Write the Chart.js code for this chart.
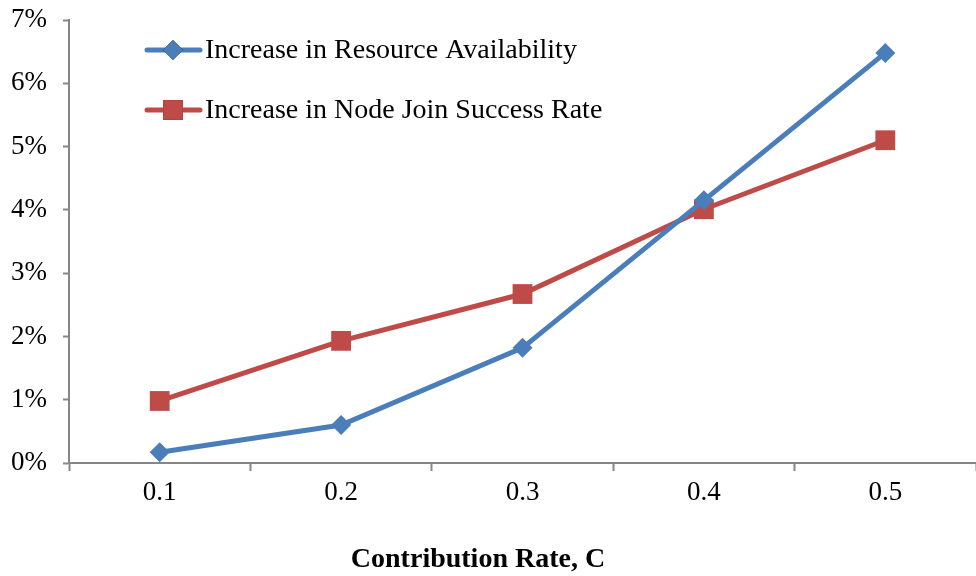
<!DOCTYPE html>
<html>
<head>
<meta charset="utf-8">
<script src="https://cdn.jsdelivr.net/npm/chart.js@4.4.1/dist/chart.umd.min.js"></script>
<style>
  html, body { margin: 0; padding: 0; background: #ffffff; overflow: hidden; }
  #wrap { width: 976px; height: 576px; }
  canvas { display: block; }
</style>
</head>
<body>
<div id="wrap"><canvas id="chart" width="976" height="576"></canvas></div>
<script>
const categories = ["0.1", "0.2", "0.3", "0.4", "0.5"];
const resourceAvailability = [0.17, 0.6, 1.82, 4.15, 6.48];
const nodeJoinSuccess = [0.98, 1.93, 2.67, 4.01, 5.1];
const seriesNames = ["Increase in Resource Availability", "Increase in Node Join Success Rate"];
const yTicks = [0, 1, 2, 3, 4, 5, 6, 7];
const xTitle = "Contribution Rate, C";

const FONT = "'Liberation Serif', 'DejaVu Serif', serif";
const AXIS = "#868686";

// legend drawn inside the plot: line sample with its marker, then the label
const innerLegend = {
    id: "innerLegend",
    afterDatasetsDraw(chart) {
        const ctx = chart.ctx;
        const rows = [50, 110];
        chart.data.datasets.forEach(function (ds, i) {
            const y = rows[i];
            ctx.save();
            ctx.strokeStyle = ds.borderColor;
            ctx.lineWidth = ds.borderWidth;
            ctx.lineCap = "round";
            ctx.beginPath();
            ctx.moveTo(147, y);
            ctx.lineTo(200, y);
            ctx.stroke();
            Chart.helpers.drawPoint(ctx, {
                pointStyle: ds.pointStyle,
                radius: ds.pointRadius,
                borderWidth: 0
            }, 173, y);
            ctx.fillStyle = ds.backgroundColor;
            ctx.fill();
            ctx.fillStyle = "#000000";
            ctx.font = "28px " + FONT;
            ctx.textBaseline = "middle";
            ctx.fillText(ds.label, 205, y + 1);
            ctx.restore();
        });
        // axis title sits a little left of the plot centre in the original
        ctx.save();
        ctx.fillStyle = "#000000";
        ctx.font = "bold 28px " + FONT;
        ctx.textAlign = "center";
        ctx.textBaseline = "middle";
        ctx.fillText(xTitle, 478, 560);
        ctx.restore();
    }
};

new Chart(document.getElementById("chart").getContext("2d"), {
    type: "line",
    data: {
        labels: categories,
        datasets: [
            {
                label: seriesNames[0],
                data: resourceAvailability,
                borderColor: "#4a7ebb",
                backgroundColor: "#4a7ebb",
                borderWidth: 5,
                pointStyle: "rectRot",
                pointRadius: 10,
                pointBorderWidth: 0,
                tension: 0
            },
            {
                label: seriesNames[1],
                data: nodeJoinSuccess,
                borderColor: "#be4b48",
                backgroundColor: "#be4b48",
                borderWidth: 5,
                pointStyle: "rect",
                pointRadius: 14,
                pointBorderWidth: 0,
                tension: 0
            }
        ]
    },
    options: {
        responsive: false,
        animation: false,
        // the original plot runs a little past the right edge of the image
        layout: { autoPadding: false, padding: { top: 20, right: -8, left: 0, bottom: 0 } },
        plugins: {
            legend: { display: false },
            tooltip: { enabled: false }
        },
        scales: {
            x: {
                offset: true,
                grid: {
                    offset: true,
                    drawOnChartArea: false,
                    drawTicks: true,
                    tickLength: 8,
                    tickColor: AXIS,
                    tickWidth: 2
                },
                border: { color: AXIS, width: 2 },
                ticks: {
                    color: "#000000",
                    font: { family: FONT, size: 27 },
                    padding: 6,
                    maxRotation: 0,
                    autoSkip: false
                },
                afterFit: function (scale) {
                    scale.height = 113;
                    scale.paddingLeft = 0;
                    scale.paddingRight = 0;
                }
            },
            y: {
                min: 0,
                max: 7,
                afterBuildTicks: function (scale) {
                    scale.ticks = yTicks.map(function (v) { return { value: v }; });
                },
                grid: {
                    drawOnChartArea: false,
                    drawTicks: true,
                    tickLength: 6,
                    tickColor: AXIS,
                    tickWidth: 2
                },
                border: { color: AXIS, width: 2 },
                ticks: {
                    color: "#000000",
                    font: { family: FONT, size: 27 },
                    padding: 16,
                    callback: function (v) { return v + "%"; }
                },
                afterFit: function (scale) {
                    scale.width = 69;
                    scale.paddingTop = 0;
                    scale.paddingBottom = 0;
                    scale.paddingLeft = 0;
                    scale.paddingRight = 0;
                }
            }
        }
    },
    plugins: [innerLegend]
});
</script>
</body>
</html>
